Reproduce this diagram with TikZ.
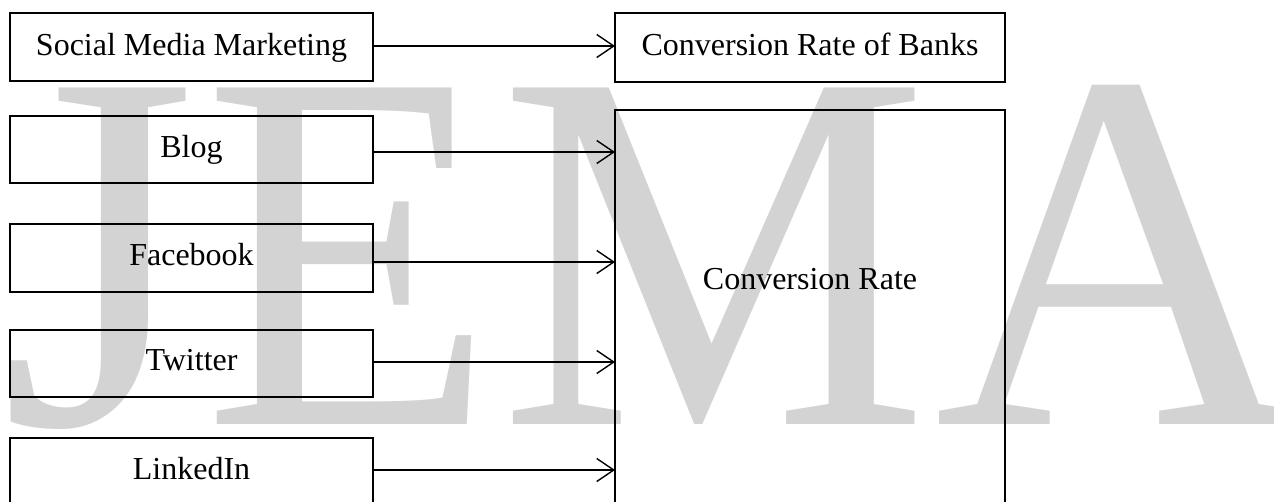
\documentclass[tikz,border=0pt]{standalone}
\usepackage{fontspec}
\usetikzlibrary{arrows.meta}
\newfontfamily\tnr{Liberation Serif}
\newfontfamily\wmfont{Liberation Serif}
\definecolor{wmgray}{HTML}{D3D3D3}
\begin{document}
\begin{tikzpicture}[x=1pt,y=-1pt,
  box/.style={draw, line width=1.7pt, inner sep=0, outer sep=0, anchor=north west},
  lbl/.style={font=\tnr\fontsize{32}{32}\selectfont, anchor=base, inner sep=0},
  wm/.style={text=wmgray, font=\wmfont\fontsize{514}{514}\selectfont, anchor=base west, inner sep=0},
  link/.style={line width=1.4pt, -{Straight Barb[length=17pt,width=23pt,line width=1.4pt]}}]
\useasboundingbox (0,0) rectangle (1274,501);
\clip (0,0) rectangle (1274,501);
% watermark
\node[wm] (wj) at (0,424) {\scalebox{0.98}[1]{J}};
\node[wm] (we) at (203,424) {\scalebox{0.93}[1]{E}};
\node[wm] (wmm) at (499,424) {\scalebox{0.94}[1]{M}};
\node[wm] (wa) at (934,424) {\scalebox{1.0}[1]{A}};
% boxes
\node[box, minimum width=363pt, minimum height=68pt] (smm) at (10,13) {};
\node[box, minimum width=363pt, minimum height=67pt] (blog) at (10,116) {};
\node[box, minimum width=363pt, minimum height=68pt] (fb) at (10,224) {};
\node[box, minimum width=363pt, minimum height=67pt] (tw) at (10,330) {};
\node[box, minimum width=363pt, minimum height=120pt] (li) at (10,438) {};
\node[box, minimum width=390pt, minimum height=69pt] (bank) at (615,13) {};
\node[box, minimum width=390pt, minimum height=440pt] (conv) at (615,110) {};
% labels
\node[lbl] (smmt) at (191.5,55) {Social Media Marketing};
\node[lbl] (blogt) at (191.5,157) {Blog};
\node[lbl] (fbt) at (191.5,265) {Facebook};
\node[lbl] (twt) at (191.5,370) {Twitter};
\node[lbl] (lit) at (191.5,479) {LinkedIn};
\node[lbl] (bankt) at (810,55) {Conversion Rate of Banks};
\node[lbl] (convt) at (810,289) {Conversion Rate};
% arrows
\coordinate (a1) at (smm.east |- 0,46);
\coordinate (a2) at (blog.east |- 0,152);
\coordinate (a3) at (fb.east |- 0,262);
\coordinate (a4) at (tw.east |- 0,362);
\coordinate (a5) at (li.north east |- 0,470);
\draw[link] (a1) -- (a1 -| bank.west);
\draw[link] (a2) -- (a2 -| conv.west);
\draw[link] (a3) -- (a3 -| conv.west);
\draw[link] (a4) -- (a4 -| conv.west);
\draw[link] (a5) -- (a5 -| conv.west);
\end{tikzpicture}
\end{document}
